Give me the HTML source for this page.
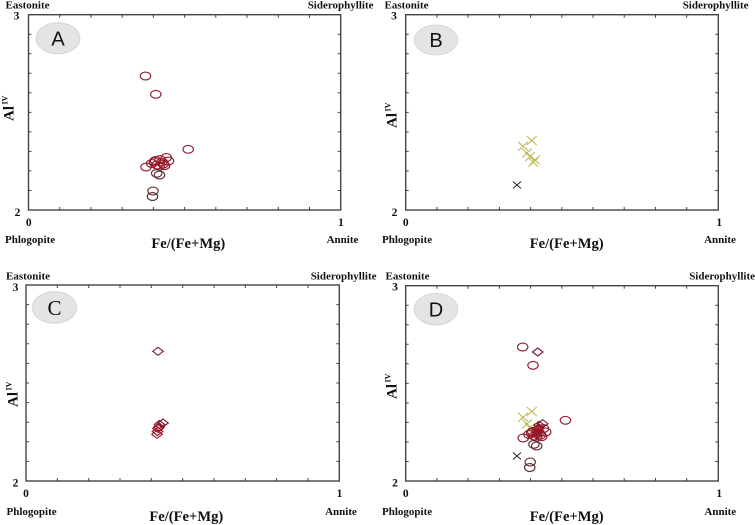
<!DOCTYPE html>
<html><head><meta charset="utf-8"><style>
html,body{margin:0;padding:0;background:#fff;}
svg{display:block;}
text{font-family:"Liberation Serif",serif;font-weight:bold;fill:#111;}
</style></head><body>
<svg width="755" height="525" viewBox="0 0 755 525" xmlns="http://www.w3.org/2000/svg">
<defs>
<g id="ell" fill="none" stroke="#8b1a2a" stroke-width="1.1">
<ellipse cx="117" cy="61.3" rx="5.2" ry="3.9"/>
<ellipse cx="127.3" cy="79.6" rx="5.2" ry="3.9"/>
<ellipse cx="159.7" cy="134.6" rx="5.2" ry="3.9"/>
<ellipse cx="117.5" cy="152.3" rx="5.2" ry="3.9"/>
<ellipse cx="123.2" cy="148.8" rx="5.2" ry="3.9"/>
<ellipse cx="127" cy="145.8" rx="5.2" ry="3.9" stroke="#a01525"/>
<ellipse cx="131.5" cy="144.8" rx="5.2" ry="3.9" stroke="#a01525"/>
<ellipse cx="137.8" cy="142.8" rx="5.2" ry="3.9"/>
<ellipse cx="140" cy="146.3" rx="5.2" ry="3.9"/>
<ellipse cx="130.8" cy="151.6" rx="5.2" ry="3.9" stroke="#a01525"/>
<ellipse cx="134.8" cy="149.3" rx="5.2" ry="3.9" stroke="#a01525"/>
<ellipse cx="128.5" cy="150.3" rx="5.2" ry="3.9" stroke="#a01525"/>
<ellipse cx="133.5" cy="147.3" rx="5.2" ry="3.9" stroke="#a01525"/>
<ellipse cx="126" cy="147" rx="5.2" ry="3.9"/>
<ellipse cx="136" cy="151" rx="5.2" ry="3.9"/>
<ellipse cx="128.2" cy="158.6" rx="5.2" ry="3.9" stroke="#5a2a2a"/>
<ellipse cx="131" cy="160.3" rx="5.2" ry="3.9" stroke="#5a2a2a"/>
<ellipse cx="124.5" cy="176.3" rx="5.2" ry="3.9" stroke="#6a2a2a"/>
<ellipse cx="124" cy="181.8" rx="5.2" ry="3.9" stroke="#4a2a2a"/>
</g>
<g id="xs" fill="none" stroke-width="1">
<g stroke="#bdb54c">
<path d="M121,121.3 l10,9 M121,130.3 l10,-9"/>
<path d="M112.3,127 l10,9 M112.3,136 l10,-9"/>
<path d="M116.3,133.8 l10,9 M116.3,142.8 l10,-9"/>
<path d="M119.3,137.5 l10,9 M119.3,146.5 l10,-9"/>
<path d="M124.3,140.8 l10,9 M124.3,149.8 l10,-9"/>
<path d="M122.6,143.1 l10,9 M122.6,152.1 l10,-9"/>
</g>
<path stroke="#222" d="M107.3,166.8 l8,7 M107.3,173.8 l8,-7"/>
</g>
<g id="dia" fill="none" stroke="#7a1a2a" stroke-width="1.1">
<path d="M126.7,66.3 L132,62.3 L137.3,66.3 L132,70.3 Z"/>
<path d="M131.7,138 L137,134 L142.3,138 L137,142 Z"/>
<path d="M128.2,139.5 L133.5,135.5 L138.8,139.5 L133.5,143.5 Z"/>
<path d="M126.7,143.5 L132,139.5 L137.3,143.5 L132,147.5 Z" stroke="#a01525"/>
<path d="M126.2,146.5 L131.5,142.5 L136.8,146.5 L131.5,150.5 Z" stroke="#a01525"/>
<path d="M125.7,149.3 L131,145.3 L136.3,149.3 L131,153.3 Z" stroke="#a01525"/>
<path d="M127.7,142 L133,138 L138.3,142 L133,146 Z" stroke="#a01525"/>
</g>
</defs>

<!-- ===== Panel A ===== -->
<g>
<rect x="28.5" y="14.7" width="312.2" height="195.3" fill="none" stroke="#444" stroke-width="1.4"/>
<g stroke="#444" stroke-width="1">
<path d="M59.7,210v-3M90.9,210v-3M122.2,210v-3M153.4,210v-3M184.6,210v-3M215.8,210v-3M247,210v-3M278.3,210v-3M309.5,210v-3"/>
<path d="M59.7,14.7v3M90.9,14.7v3M122.2,14.7v3M153.4,14.7v3M184.6,14.7v3M215.8,14.7v3M247,14.7v3M278.3,14.7v3M309.5,14.7v3"/>
<path d="M28.5,34.2h3M28.5,53.8h3M28.5,73.3h3M28.5,92.8h3M28.5,112.4h3M28.5,131.9h3M28.5,151.4h3M28.5,170.9h3M28.5,190.5h3"/>
<path d="M340.7,34.2h-3M340.7,53.8h-3M340.7,73.3h-3M340.7,92.8h-3M340.7,112.4h-3M340.7,131.9h-3M340.7,151.4h-3M340.7,170.9h-3M340.7,190.5h-3"/>
</g>
<ellipse cx="58" cy="38.3" rx="22" ry="15.5" fill="#e4e4e4" stroke="#d0d0d0" stroke-width="0.8"/>
<text x="58" y="45.5" text-anchor="middle" style="font-family:'Liberation Sans',sans-serif;font-weight:normal;font-size:20px">A</text>
<use href="#ell" transform="translate(28.5,14.7)"/>
<text x="5.5" y="8.5" font-size="11">Eastonite</text>
<text x="373.5" y="8.5" font-size="11" text-anchor="end">Siderophyllite</text>
<text x="16.5" y="19.5" font-size="11.5" text-anchor="middle">3</text>
<text x="17.5" y="216" font-size="11.5" text-anchor="middle">2</text>
<text x="28.8" y="226" font-size="11.5" text-anchor="middle">0</text>
<text x="341" y="226" font-size="11.5" text-anchor="middle">1</text>
<text x="5" y="243" font-size="11">Phlogopite</text>
<text x="342.5" y="243" font-size="11" text-anchor="middle">Annite</text>
<text x="188.3" y="248" font-size="14.6" text-anchor="middle">Fe/(Fe+Mg)</text>
<text transform="translate(13.5,121) rotate(-90)" font-size="15">Al<tspan font-size="8" dy="-6" dx="1.5">IV</tspan></text>
</g>

<!-- ===== Panel B ===== -->
<g>
<rect x="405.7" y="14.7" width="312.6" height="195.3" fill="none" stroke="#444" stroke-width="1.4"/>
<g stroke="#444" stroke-width="1" transform="translate(377.2,0)">
<path d="M59.7,210v-3M90.9,210v-3M122.2,210v-3M153.4,210v-3M184.6,210v-3M215.8,210v-3M247,210v-3M278.3,210v-3M309.5,210v-3"/>
<path d="M59.7,14.7v3M90.9,14.7v3M122.2,14.7v3M153.4,14.7v3M184.6,14.7v3M215.8,14.7v3M247,14.7v3M278.3,14.7v3M309.5,14.7v3"/>
<path d="M28.5,34.2h3M28.5,53.8h3M28.5,73.3h3M28.5,92.8h3M28.5,112.4h3M28.5,131.9h3M28.5,151.4h3M28.5,170.9h3M28.5,190.5h3"/>
<path d="M341.1,34.2h-3M341.1,53.8h-3M341.1,73.3h-3M341.1,92.8h-3M341.1,112.4h-3M341.1,131.9h-3M341.1,151.4h-3M341.1,170.9h-3M341.1,190.5h-3"/>
</g>
<ellipse cx="436" cy="40" rx="21.7" ry="15" fill="#e4e4e4" stroke="#d0d0d0" stroke-width="0.8"/>
<text x="436" y="47.2" text-anchor="middle" style="font-family:'Liberation Sans',sans-serif;font-weight:normal;font-size:20px">B</text>
<use href="#xs" transform="translate(405.7,14.7)"/>
<text x="384.5" y="8.5" font-size="11">Eastonite</text>
<text x="748.5" y="8.5" font-size="11" text-anchor="end">Siderophyllite</text>
<text x="394" y="19.5" font-size="11.5" text-anchor="middle">3</text>
<text x="394.5" y="216" font-size="11.5" text-anchor="middle">2</text>
<text x="405.7" y="226" font-size="11.5" text-anchor="middle">0</text>
<text x="719.3" y="226" font-size="11.5" text-anchor="middle">1</text>
<text x="382" y="243" font-size="11">Phlogopite</text>
<text x="720" y="243" font-size="11" text-anchor="middle">Annite</text>
<text x="566.7" y="248" font-size="14.6" text-anchor="middle">Fe/(Fe+Mg)</text>
<text transform="translate(396.5,128) rotate(-90)" font-size="15">Al<tspan font-size="8" dy="-6" dx="1.5">IV</tspan></text>
</g>

<!-- ===== Panel C ===== -->
<g>
<rect x="26" y="285" width="313.3" height="196" fill="none" stroke="#444" stroke-width="1.4"/>
<g stroke="#444" stroke-width="1">
<path d="M57.3,481v-3M88.7,481v-3M120,481v-3M151.3,481v-3M182.7,481v-3M214,481v-3M245.3,481v-3M276.6,481v-3M308,481v-3"/>
<path d="M57.3,285v3M88.7,285v3M120,285v3M151.3,285v3M182.7,285v3M214,285v3M245.3,285v3M276.6,285v3M308,285v3"/>
<path d="M26,304.6h3M26,324.2h3M26,343.8h3M26,363.4h3M26,383h3M26,402.6h3M26,422.2h3M26,441.8h3M26,461.4h3"/>
<path d="M339.3,304.6h-3M339.3,324.2h-3M339.3,343.8h-3M339.3,363.4h-3M339.3,383h-3M339.3,402.6h-3M339.3,422.2h-3M339.3,441.8h-3M339.3,461.4h-3"/>
</g>
<ellipse cx="54.5" cy="307.5" rx="22.2" ry="15.8" fill="#e4e4e4" stroke="#d0d0d0" stroke-width="0.8"/>
<text x="54.5" y="315" text-anchor="middle" style="font-family:'Liberation Serif',serif;font-weight:normal;font-size:21px">C</text>
<use href="#dia" transform="translate(26,285)"/>
<text x="6" y="279.5" font-size="11">Eastonite</text>
<text x="376.5" y="279.5" font-size="11" text-anchor="end">Siderophyllite</text>
<text x="15.5" y="291" font-size="11.5" text-anchor="middle">3</text>
<text x="15.5" y="486.5" font-size="11.5" text-anchor="middle">2</text>
<text x="26" y="497" font-size="11.5" text-anchor="middle">0</text>
<text x="339.5" y="497" font-size="11.5" text-anchor="middle">1</text>
<text x="6.5" y="515" font-size="11">Phlogopite</text>
<text x="341" y="515" font-size="11" text-anchor="middle">Annite</text>
<text x="186.3" y="521" font-size="14.6" text-anchor="middle">Fe/(Fe+Mg)</text>
<text transform="translate(17.5,407) rotate(-90)" font-size="15">Al<tspan font-size="8" dy="-6" dx="1.5">IV</tspan></text>
</g>

<!-- ===== Panel D ===== -->
<g>
<rect x="405.7" y="285.7" width="312.6" height="195.3" fill="none" stroke="#444" stroke-width="1.4"/>
<g stroke="#444" stroke-width="1" transform="translate(377.2,271)">
<path d="M59.7,210v-3M90.9,210v-3M122.2,210v-3M153.4,210v-3M184.6,210v-3M215.8,210v-3M247,210v-3M278.3,210v-3M309.5,210v-3"/>
<path d="M59.7,14.7v3M90.9,14.7v3M122.2,14.7v3M153.4,14.7v3M184.6,14.7v3M215.8,14.7v3M247,14.7v3M278.3,14.7v3M309.5,14.7v3"/>
<path d="M28.5,34.2h3M28.5,53.8h3M28.5,73.3h3M28.5,92.8h3M28.5,112.4h3M28.5,131.9h3M28.5,151.4h3M28.5,170.9h3M28.5,190.5h3"/>
<path d="M341.1,34.2h-3M341.1,53.8h-3M341.1,73.3h-3M341.1,92.8h-3M341.1,112.4h-3M341.1,131.9h-3M341.1,151.4h-3M341.1,170.9h-3M341.1,190.5h-3"/>
</g>
<ellipse cx="436" cy="309.2" rx="21.7" ry="15.8" fill="#e4e4e4" stroke="#d0d0d0" stroke-width="0.8"/>
<text x="436" y="316.5" text-anchor="middle" style="font-family:'Liberation Sans',sans-serif;font-weight:normal;font-size:20px">D</text>
<use href="#xs" transform="translate(405.7,285.7)"/>
<use href="#dia" transform="translate(405.7,285.7)"/>
<use href="#ell" transform="translate(405.7,285.7)"/>
<text x="385.5" y="279.5" font-size="11">Eastonite</text>
<text x="755" y="279.5" font-size="11" text-anchor="end">Siderophyllite</text>
<text x="395" y="290.5" font-size="11.5" text-anchor="middle">3</text>
<text x="395" y="486.5" font-size="11.5" text-anchor="middle">2</text>
<text x="405.7" y="497" font-size="11.5" text-anchor="middle">0</text>
<text x="719.3" y="497" font-size="11.5" text-anchor="middle">1</text>
<text x="382" y="515" font-size="11">Phlogopite</text>
<text x="720.3" y="515" font-size="11" text-anchor="middle">Annite</text>
<text x="566.7" y="521" font-size="14.6" text-anchor="middle">Fe/(Fe+Mg)</text>
<text transform="translate(396.5,399) rotate(-90)" font-size="15">Al<tspan font-size="8" dy="-6" dx="1.5">IV</tspan></text>
</g>
</svg>
</body></html>
